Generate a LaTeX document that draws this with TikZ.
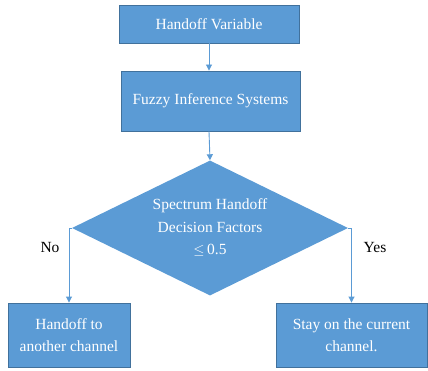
\documentclass[tikz,border=0pt]{standalone}
\usepackage{fontspec}
\setmainfont{Liberation Serif}
\usetikzlibrary{shapes.geometric,arrows.meta}
\definecolor{boxfill}{HTML}{5B9BD5}
\definecolor{boxline}{HTML}{41719C}
\definecolor{linkcol}{HTML}{5B9BD5}
\begin{document}
\begin{tikzpicture}[x=1pt,y=-1pt,
  every node/.style={font=\fontsize{15.5}{22.5}\selectfont},
  stepbox/.style={draw=boxline,line width=0.9pt,fill=boxfill,text=white,
    align=center,inner sep=0pt},
  decisionbox/.style={diamond,draw=none,fill=boxfill,text=white,align=center,
    inner sep=0pt,aspect=2.04},
  link/.style={draw=linkcol,line width=0.9pt,-{Triangle[length=6pt,width=6pt]}},
  tag/.style={text=black}]
\useasboundingbox (0,0) rectangle (428,371);

\node[stepbox,minimum width=180pt,minimum height=38pt] (var) at (209,24) {Handoff Variable};
\node[stepbox,minimum width=179pt,minimum height=60pt] (fis) at (210.5,101) {Fuzzy Inference Systems};
\node[decisionbox,minimum width=276pt,minimum height=135pt] (dec) at (210,228)
  {Spectrum Handoff\\Decision Factors\\$\leq$\,0.5};
\node[stepbox,minimum width=122pt,minimum height=64pt] (move) at (69,335)
  {Handoff to\\another channel};
\node[stepbox,minimum width=151pt,minimum height=64pt] (stay) at (351.5,335)
  {Stay on the current\\channel.};

\node[tag] (no) at (50,248) {No};
\node[tag] (yes) at (375,248) {Yes};

\draw[link] (var.south) -- (fis.north -| var.south);
\draw[link] (fis.south -| var.south) -- (dec.north);
\draw[link] (dec.west) -| (move.north);
\draw[link] (dec.east) -| (stay.north);
\end{tikzpicture}
\end{document}
